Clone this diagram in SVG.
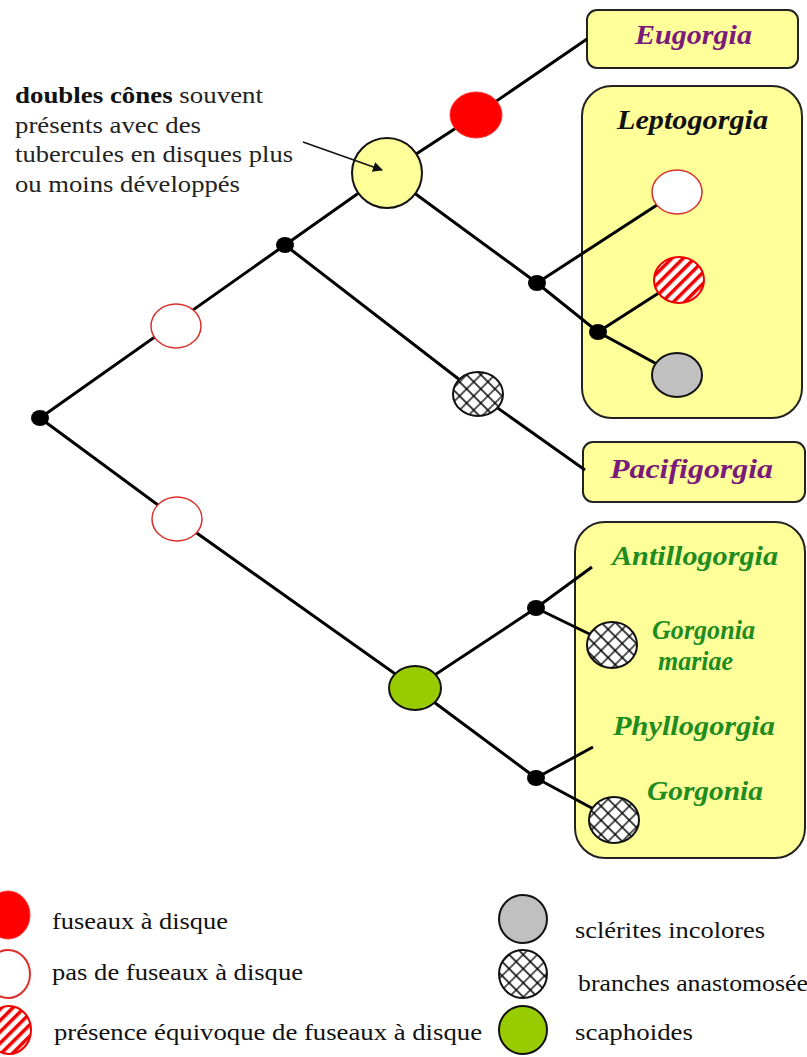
<svg xmlns="http://www.w3.org/2000/svg" width="807" height="1057" viewBox="0 0 807 1057">
<style>
.ln{stroke:#000;stroke-width:3;fill:none}
.dot{fill:#000}
.box{fill:#ffff99;stroke:#222;stroke-width:2}
.nm{font-family:"Liberation Serif","Times New Roman",serif;font-weight:bold;font-style:italic;font-size:27px}
.pu{fill:#7a1a7a}
.gr{fill:#1e8c1e}
.bk{fill:#111}
.lg{font-family:"Liberation Serif","Times New Roman",serif;font-size:24px;fill:#111}
.an{font-family:"Liberation Serif","Times New Roman",serif;font-size:23px;fill:#222}
.open{fill:#fff;stroke:#d9302c;stroke-width:1.5}
.red{fill:#f00;stroke:#f33;stroke-width:1}
.hat{fill:url(#stripe);stroke:#e00;stroke-width:2}
.xh{fill:url(#cross);stroke:#111;stroke-width:2}
.gy{fill:#c0c0c0;stroke:#111;stroke-width:2}
.gn{fill:#99cc00;stroke:#111;stroke-width:2}
.yl{fill:#ffff99;stroke:#111;stroke-width:2}
</style>
<defs>
<pattern id="stripe" patternUnits="userSpaceOnUse" width="8" height="8" patternTransform="rotate(45)"><rect width="8" height="8" fill="#fff"/><rect width="3.5" height="8" fill="#e00"/></pattern>
<pattern id="cross" patternUnits="userSpaceOnUse" width="10" height="10" patternTransform="rotate(45)"><rect width="10" height="10" fill="#fff"/><path d="M0 5H10M5 0V10" stroke="#000" stroke-width="1.3"/></pattern>
<marker id="arr" viewBox="0 0 10 10" refX="9" refY="5" markerWidth="12" markerHeight="10" markerUnits="userSpaceOnUse" orient="auto"><path d="M0 0L10 5L0 10z" fill="#111"/></marker>
</defs>

<g id="boxes">
<rect id="box-eugorgia" class="box" x="587" y="10" width="211" height="58" rx="10"/>
<rect id="box-leptogorgia" class="box" x="582" y="86" width="220" height="332" rx="30"/>
<rect id="box-pacifigorgia" class="box" x="583" y="442" width="222" height="60" rx="10"/>
<rect id="box-gorgonia" class="box" x="575" y="522" width="230" height="336" rx="30"/>
</g>

<g id="connectors">
<path class="ln" d="M40 418L285 245L387 173L476 115L587 39"/>
<path class="ln" d="M387 173L537 283L598 332L677 375"/>
<path class="ln" d="M537 283L677 192"/>
<path class="ln" d="M598 332L679 280"/>
<path class="ln" d="M285 245L478 394L585 470"/>
<path class="ln" d="M40 418L177 519L415 688L536 608L592 567"/>
<path class="ln" d="M536 608L612 645"/>
<path class="ln" d="M415 688L536 778L593 747"/>
<path class="ln" d="M536 778L614 820"/>
</g>

<g id="n-root"><ellipse class="dot" cx="40" cy="418" rx="9" ry="8"/></g>
<g id="n-upper"><ellipse class="dot" cx="285" cy="245" rx="9" ry="8"/></g>
<g id="n-open1"><ellipse class="open" cx="176" cy="326" rx="25" ry="22"/></g>
<g id="n-yellow"><circle class="yl" cx="387" cy="173" r="35"/></g>
<g id="n-red"><ellipse class="red" cx="476" cy="115" rx="26" ry="23"/></g>
<g id="n-lep1"><ellipse class="dot" cx="537" cy="283" rx="9" ry="8"/></g>
<g id="n-lep2"><ellipse class="dot" cx="598" cy="332" rx="9" ry="8"/></g>
<g id="n-lep-open"><ellipse class="open" cx="677" cy="192" rx="25" ry="22"/></g>
<g id="n-lep-hatch"><ellipse class="hat" cx="679" cy="280" rx="25" ry="23"/></g>
<g id="n-lep-gray"><ellipse class="gy" cx="677" cy="375" rx="25" ry="22"/></g>
<g id="n-pac-cross"><ellipse class="xh" cx="478" cy="394" rx="25" ry="22"/></g>
<g id="n-open2"><ellipse class="open" cx="177" cy="519" rx="25" ry="22"/></g>
<g id="n-green"><ellipse class="gn" cx="415" cy="688" rx="26" ry="22"/></g>
<g id="n-g1"><ellipse class="dot" cx="536" cy="608" rx="9" ry="8"/></g>
<g id="n-g2"><ellipse class="dot" cx="536" cy="778" rx="9" ry="8"/></g>
<g id="n-gm-cross"><ellipse class="xh" cx="612" cy="645" rx="25" ry="23"/></g>
<g id="n-g-cross"><ellipse class="xh" cx="614" cy="820" rx="25" ry="23"/></g>

<g id="annotation-arrow">
<path d="M303 142L382 170" stroke="#111" stroke-width="1.5" fill="none" marker-end="url(#arr)"/>
</g>

<g id="labels">
<text class="nm pu" x="635" y="44" textLength="117" lengthAdjust="spacingAndGlyphs">Eugorgia</text>
<text class="nm bk" x="617" y="129" textLength="151" lengthAdjust="spacingAndGlyphs">Leptogorgia</text>
<text class="nm pu" x="610" y="478" textLength="163" lengthAdjust="spacingAndGlyphs">Pacifigorgia</text>
<text class="nm gr" x="612" y="565" textLength="166" lengthAdjust="spacingAndGlyphs">Antillogorgia</text>
<text class="nm gr" x="652" y="639" font-size="24" textLength="103" lengthAdjust="spacingAndGlyphs">Gorgonia</text>
<text class="nm gr" x="658" y="670" font-size="24" textLength="75" lengthAdjust="spacingAndGlyphs">mariae</text>
<text class="nm gr" x="613" y="735" textLength="162" lengthAdjust="spacingAndGlyphs">Phyllogorgia</text>
<text class="nm gr" x="647" y="800" textLength="116" lengthAdjust="spacingAndGlyphs">Gorgonia</text>
</g>

<g id="annotation">
<text class="an" x="15" y="103" textLength="248" lengthAdjust="spacingAndGlyphs"><tspan font-weight="bold" fill="#111">doubles cônes</tspan> souvent</text>
<text class="an" x="15" y="133" textLength="186" lengthAdjust="spacingAndGlyphs">présents avec des</text>
<text class="an" x="15" y="162" textLength="278" lengthAdjust="spacingAndGlyphs">tubercules en disques plus</text>
<text class="an" x="15" y="192" textLength="225" lengthAdjust="spacingAndGlyphs">ou moins développés</text>
</g>

<g id="legend">
<ellipse class="red" cx="8" cy="915" rx="22" ry="24"/>
<text class="lg" x="52" y="929" textLength="176" lengthAdjust="spacingAndGlyphs">fuseaux à disque</text>
<ellipse class="open" cx="8" cy="974" rx="22" ry="24" style="stroke-width:2"/>
<text class="lg" x="52" y="980" textLength="251" lengthAdjust="spacingAndGlyphs">pas de fuseaux à disque</text>
<ellipse class="hat" cx="9" cy="1030" rx="22" ry="24"/>
<text class="lg" x="54" y="1040" textLength="428" lengthAdjust="spacingAndGlyphs">présence équivoque de fuseaux à disque</text>
<ellipse class="gy" cx="523" cy="919" rx="24" ry="24"/>
<text class="lg" x="575" y="938" textLength="190" lengthAdjust="spacingAndGlyphs">sclérites incolores</text>
<ellipse class="xh" cx="523" cy="974" rx="24" ry="24"/>
<text class="lg" x="578" y="991" textLength="240" lengthAdjust="spacingAndGlyphs">branches anastomosées</text>
<ellipse class="gn" cx="523" cy="1030" rx="24" ry="24"/>
<text class="lg" x="575" y="1040" textLength="118" lengthAdjust="spacingAndGlyphs">scaphoides</text>
</g>
</svg>
